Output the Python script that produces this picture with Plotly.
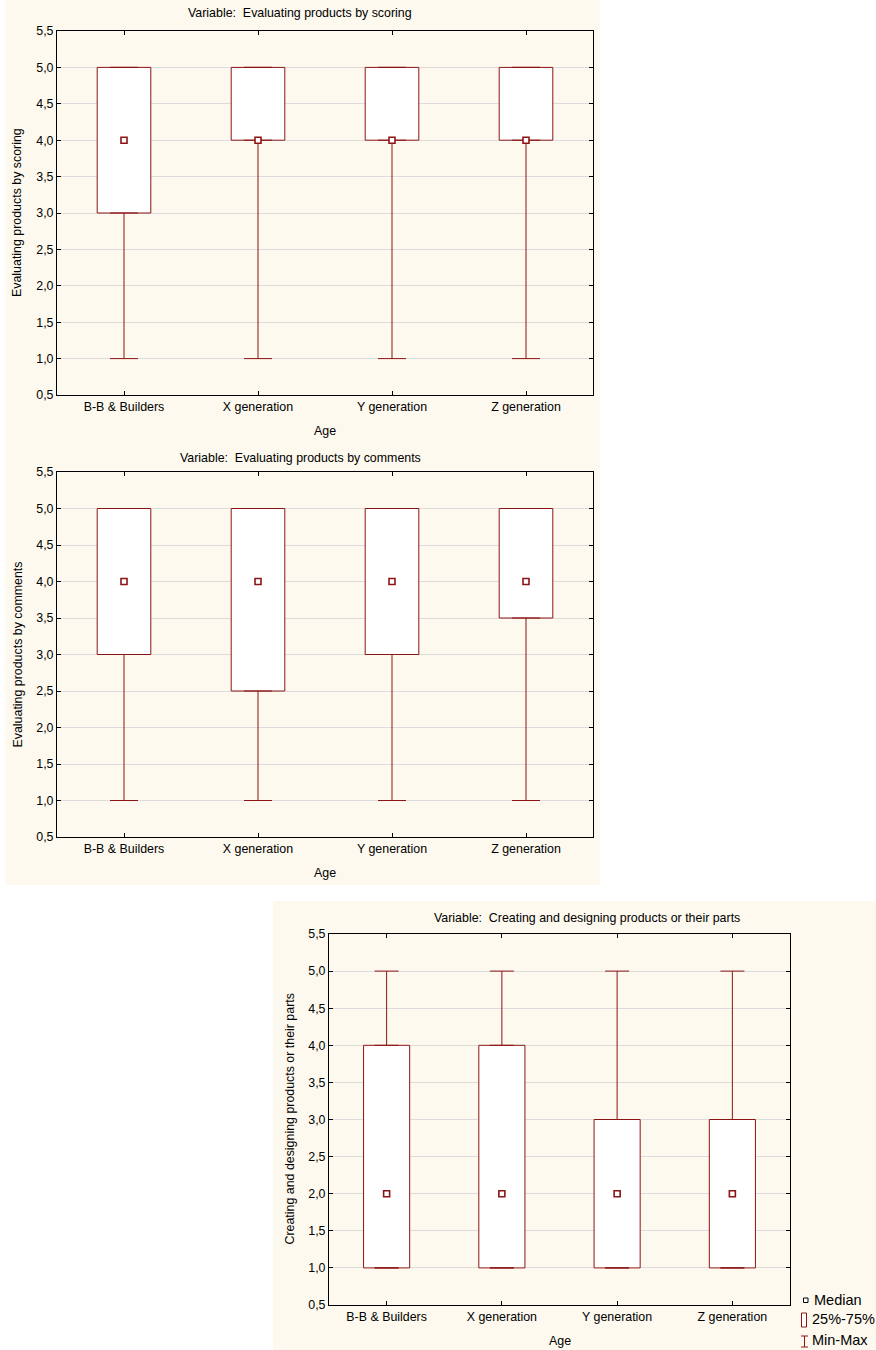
import plotly.graph_objects as go

# ---------------- data ----------------
categories = ["B-B & Builders", "X generation", "Y generation", "Z generation"]

scoring_min = [1.0, 1.0, 1.0, 1.0]
scoring_q1 = [3.0, 4.0, 4.0, 4.0]
scoring_median = [4.0, 4.0, 4.0, 4.0]
scoring_q3 = [5.0, 5.0, 5.0, 5.0]
scoring_max = [5.0, 5.0, 5.0, 5.0]

comments_min = [1.0, 1.0, 1.0, 1.0]
comments_q1 = [3.0, 2.5, 3.0, 3.5]
comments_median = [4.0, 4.0, 4.0, 4.0]
comments_q3 = [5.0, 5.0, 5.0, 5.0]
comments_max = [5.0, 5.0, 5.0, 5.0]

creating_min = [1.0, 1.0, 1.0, 1.0]
creating_q1 = [1.0, 1.0, 1.0, 1.0]
creating_median = [2.0, 2.0, 2.0, 2.0]
creating_q3 = [4.0, 4.0, 3.0, 3.0]
creating_max = [5.0, 5.0, 5.0, 5.0]

y_ticks = [0.5, 1.0, 1.5, 2.0, 2.5, 3.0, 3.5, 4.0, 4.5, 5.0, 5.5]

# ---------------- style ----------------
W, H = 876, 1350
RED = "#8c1414"
CREAM = "#fdf9ee"
GRID = "#dcdcdc"
FONT = "Liberation Sans, Arial, sans-serif"
FS = 12.4


def fx(px):
    return px / W


def fy(py):
    return 1 - py / H


panels = [
    dict(name="Evaluating products by scoring", mn=scoring_min, q1=scoring_q1,
         med=scoring_median, q3=scoring_q3, mx=scoring_max,
         box=(57, 593, 31, 395), cap=14, title_xy=(300, 13), ytitle_x=17, age_xy=(325, 431)),
    dict(name="Evaluating products by comments", mn=comments_min, q1=comments_q1,
         med=comments_median, q3=comments_q3, mx=comments_max,
         box=(57, 593, 472, 837), cap=14, title_xy=(300, 458), ytitle_x=17, age_xy=(325, 873)),
    dict(name="Creating and designing products or their parts", mn=creating_min, q1=creating_q1,
         med=creating_median, q3=creating_q3, mx=creating_max,
         box=(329, 790, 934, 1305), cap=12, title_xy=(587, 918), ytitle_x=289, age_xy=(560, 1341)),
]

fig = go.Figure()
annotations = []
shapes = [
    dict(type="rect", xref="paper", yref="paper", x0=fx(5), x1=fx(600), y0=fy(885), y1=fy(0),
         fillcolor=CREAM, line=dict(width=0), layer="below"),
    dict(type="rect", xref="paper", yref="paper", x0=fx(273), x1=fx(876), y0=fy(1350), y1=fy(901),
         fillcolor=CREAM, line=dict(width=0), layer="below"),
]

for i, p in enumerate(panels):
    sfx = "" if i == 0 else str(i + 1)
    xa, ya = "x" + sfx, "y" + sfx
    lower = [a - b for a, b in zip(p["q1"], p["mn"])]
    upper = [a - b for a, b in zip(p["mx"], p["q3"])]
    height = [a - b for a, b in zip(p["q3"], p["q1"])]
    zeros = [0] * len(categories)

    # whiskers
    fig.add_trace(go.Scatter(x=categories, y=p["q1"], mode="markers", xaxis=xa, yaxis=ya,
                             marker=dict(size=1, opacity=0), showlegend=False, hoverinfo="skip",
                             error_y=dict(type="data", symmetric=False, array=zeros, arrayminus=lower,
                                          width=p["cap"], thickness=1, color=RED)))
    fig.add_trace(go.Scatter(x=categories, y=p["q3"], mode="markers", xaxis=xa, yaxis=ya,
                             marker=dict(size=1, opacity=0), showlegend=False, hoverinfo="skip",
                             error_y=dict(type="data", symmetric=False, array=upper, arrayminus=zeros,
                                          width=p["cap"], thickness=1, color=RED)))
    # boxes
    fig.add_trace(go.Bar(x=categories, y=height, base=p["q1"], width=0.4, xaxis=xa, yaxis=ya,
                         marker=dict(color="white", line=dict(color=RED, width=1)),
                         showlegend=False, hoverinfo="skip"))
    # medians
    fig.add_trace(go.Scatter(x=categories, y=p["med"], mode="markers", xaxis=xa, yaxis=ya,
                             marker=dict(symbol="square", size=6, color="white",
                                         line=dict(color=RED, width=1.6)),
                             showlegend=False, hoverinfo="skip"))

    x0, x1, y0, y1 = p["box"]
    axis_common = dict(showline=True, linecolor="black", linewidth=1, mirror="ticks",
                       ticks="inside", ticklen=4, tickcolor="black", zeroline=False,
                       automargin=False,
                       tickfont=dict(family=FONT, size=FS, color="black"))
    fig.layout["xaxis" + sfx] = dict(axis_common, domain=[fx(x0), fx(x1)], anchor=ya,
                                     type="category", categoryorder="array",
                                     categoryarray=categories, range=[-0.5, 3.5],
                                     showgrid=False)
    fig.layout["yaxis" + sfx] = dict(axis_common, domain=[fy(y1), fy(y0)], anchor=xa,
                                     range=[0.5, 5.5], tickvals=y_ticks, tickformat=".1f",
                                     showgrid=True, gridcolor=GRID, gridwidth=1)

    tx, ty = p["title_xy"]
    annotations.append(dict(text="Variable:  " + p["name"], xref="paper", yref="paper",
                            x=fx(tx), y=fy(ty), xanchor="center", yanchor="middle",
                            showarrow=False, font=dict(family=FONT, size=FS, color="black")))
    annotations.append(dict(text=p["name"], xref="paper", yref="paper",
                            x=fx(p["ytitle_x"]), y=fy((y0 + y1) / 2), textangle=-90,
                            xanchor="center", yanchor="middle",
                            showarrow=False, font=dict(family=FONT, size=FS, color="black")))
    ax_, ay_ = p["age_xy"]
    annotations.append(dict(text="Age", xref="paper", yref="paper", x=fx(ax_), y=fy(ay_),
                            xanchor="center", yanchor="middle", showarrow=False,
                            font=dict(family=FONT, size=FS, color="black")))

# legend (bottom right)
legend_items = ["Median", "25%-75%", "Min-Max"]
legend_y = [1300, 1319, 1340]
legend_x = [812, 810, 810]
for label, lx, ly in zip(legend_items, legend_x, legend_y):
    annotations.append(dict(text=label, xref="paper", yref="paper", x=fx(lx), y=fy(ly),
                            xanchor="left", yanchor="middle", showarrow=False,
                            font=dict(family=FONT, size=14.5, color="black")))
shapes += [
    dict(type="rect", xref="paper", yref="paper", x0=fx(803.5), x1=fx(808), y0=fy(1302.5), y1=fy(1298),
         line=dict(color="black", width=1), fillcolor="white"),
    dict(type="rect", xref="paper", yref="paper", x0=fx(801.5), x1=fx(806.5), y0=fy(1327), y1=fy(1313),
         line=dict(color=RED, width=1), fillcolor="white"),
    dict(type="line", xref="paper", yref="paper", x0=fx(804.5), x1=fx(804.5), y0=fy(1347), y1=fy(1336),
         line=dict(color=RED, width=1)),
    dict(type="line", xref="paper", yref="paper", x0=fx(801), x1=fx(808), y0=fy(1336), y1=fy(1336),
         line=dict(color=RED, width=1)),
    dict(type="line", xref="paper", yref="paper", x0=fx(801), x1=fx(808), y0=fy(1347), y1=fy(1347),
         line=dict(color=RED, width=1)),
]

fig.update_layout(width=W, height=H,
                  margin=dict(l=0, r=0, t=0, b=0, pad=0, autoexpand=False),
                  paper_bgcolor="white", plot_bgcolor="white", separators=",.",
                  annotations=annotations, shapes=shapes, showlegend=False,
                  font=dict(family=FONT, size=FS, color="black"))

fig.write_html("out.html", config={"displayModeBar": False},
               post_script="document.body.style.margin='0px';")
